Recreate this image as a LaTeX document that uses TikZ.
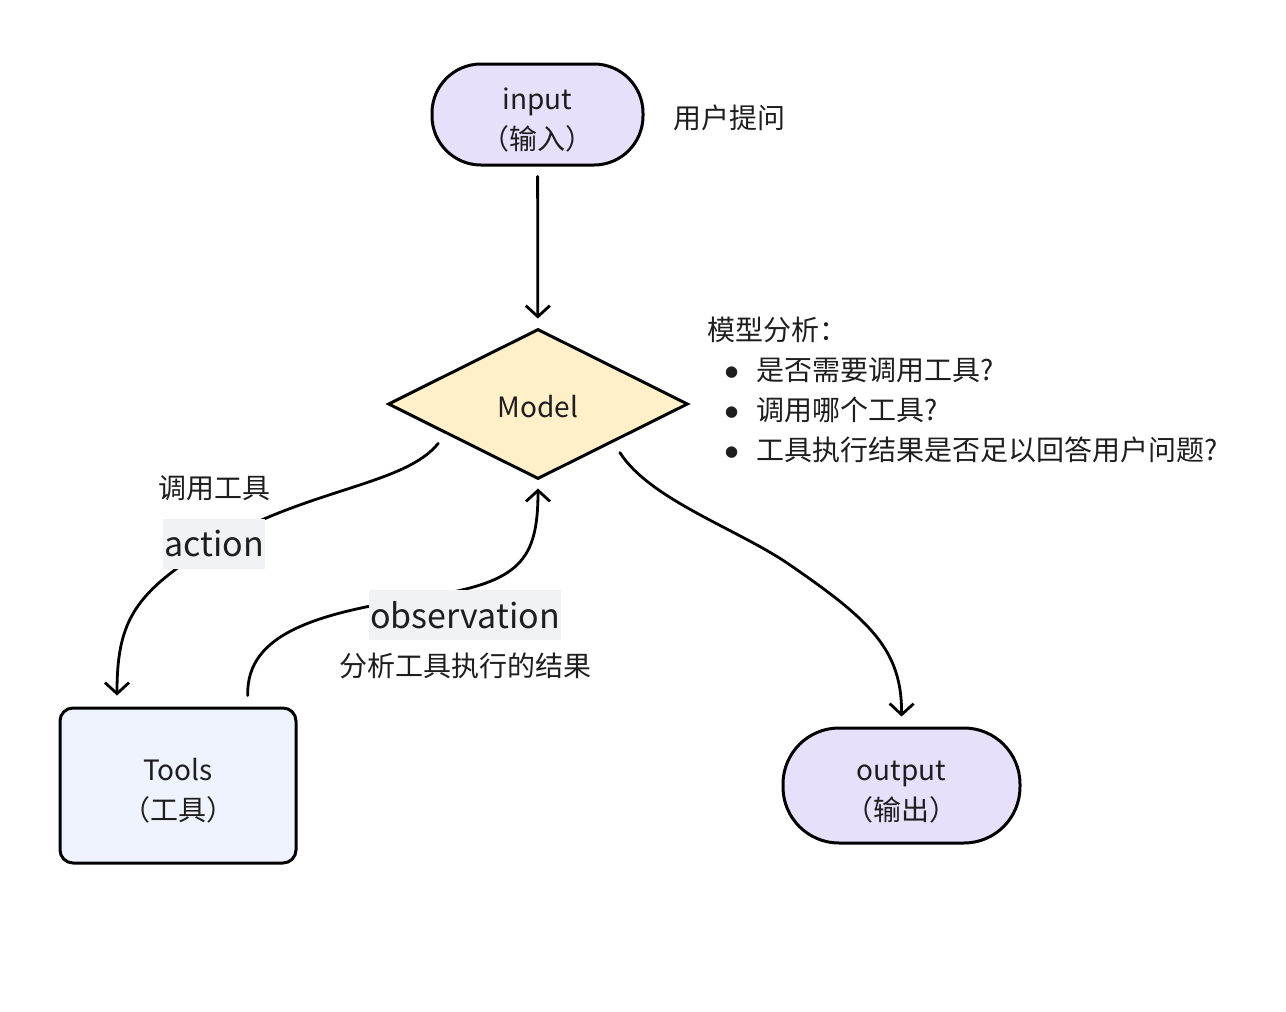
\documentclass[tikz,border=0pt]{standalone}
\usepackage{fontspec}
\setmainfont{Noto Sans CJK SC}
\newfontfamily\symfont{DejaVu Sans}
\usetikzlibrary{positioning,shapes.geometric,arrows.meta,calc}

\definecolor{inkc}{HTML}{1E1E1E}
\definecolor{termfill}{HTML}{E7E0FB}
\definecolor{judgefill}{HTML}{FFF0C9}
\definecolor{toolfill}{HTML}{EEF3FD}
\definecolor{lblfill}{HTML}{F1F2F4}

\newcommand{\bul}{\hspace*{18pt}\makebox[31pt][l]{\raisebox{4.5pt}{\symfont\fontsize{15pt}{15pt}\selectfont ●}}}

\begin{document}
\begin{tikzpicture}[
  x=1pt, y=-1pt,
  every node/.style = {font=\fontsize{28pt}{40pt}\selectfont, text=inkc},
  term/.style    = {rectangle, rounded corners=49pt, draw=black, line width=3pt,
                    fill=termfill, minimum width=211pt, minimum height=101pt,
                    align=center, inner sep=0pt, text height=70pt, text depth=0pt},
  judge/.style   = {diamond, draw=black, line width=3pt, fill=judgefill,
                    minimum width=300pt, minimum height=150pt, inner sep=0pt,
                    execute at begin node={\rule{0pt}{27pt}}},
  toolbox/.style = {rectangle, rounded corners=13pt, draw=black, line width=3pt,
                    fill=toolfill, minimum width=236pt, minimum height=155pt,
                    align=center, inner sep=0pt, text height=70pt, text depth=0pt},
  arr/.style     = {-{Straight Barb[length=11pt,width=24pt]}, line width=2.8pt,
                    line cap=round},
  lbl/.style     = {fill=lblfill, font=\fontsize{34pt}{40pt}\selectfont,
                    inner xsep=1pt, inner ysep=0pt, minimum height=50pt},
  note/.style    = {align=left, inner sep=0pt, font=\fontsize{28pt}{40pt}\selectfont},
]
\useasboundingbox[fill=white] (0,0) rectangle (1286,1012);

\node[term]                       (input)  at (537.5,114.5) {input\\（输入）};
\node[judge]                      (model)  at (538,404)     {Model};
\node[toolbox]                    (tools)  at (178,785.5)   {Tools\\（工具）};
\node[term, minimum width=237pt,
      minimum height=115pt, rounded corners=56pt] (output) at (901.5,785.5) {output\\（输出）};

\node[note, right=29pt of input, yshift=-3pt] (askq) {用户提问};
\node[note, anchor=north west]    (why)    at (707,317)
  {模型分析：\\
   \bul 是否需要调用工具?\\
   \bul 调用哪个工具?\\
   \bul 工具执行结果是否足以回答用户问题?};

\draw[arr, shorten <=10pt, shorten >=9pt] (input) -- (model);
\draw[arr, shorten <=12pt, shorten >=11pt]
  (model.198) .. controls (405,485) and (310,488) .. (214,544)
  node[lbl] (act) {action}
  .. controls (135,592) and (117,620) .. ([xshift=-61pt]tools.north);
\draw[arr, shorten <=11pt, shorten >=8pt]
  ([xshift=70pt]tools.north) .. controls (246,632) and (320,612) .. (430,596)
  .. controls (520,582) and (538,560) .. (model.south);
\node[lbl]                        (obs)    at (465,615) {observation};
\draw[arr, shorten <=12pt, shorten >=10pt]
  (model.333) .. controls (650,500) and (740,530) .. (790,565)
  .. controls (870,620) and (902,650) .. (output.north);

\node[note, above=17pt of act]    (call)   {调用工具};
\node[note, below=12pt of obs]    (result) {分析工具执行的结果};
\end{tikzpicture}
\end{document}
